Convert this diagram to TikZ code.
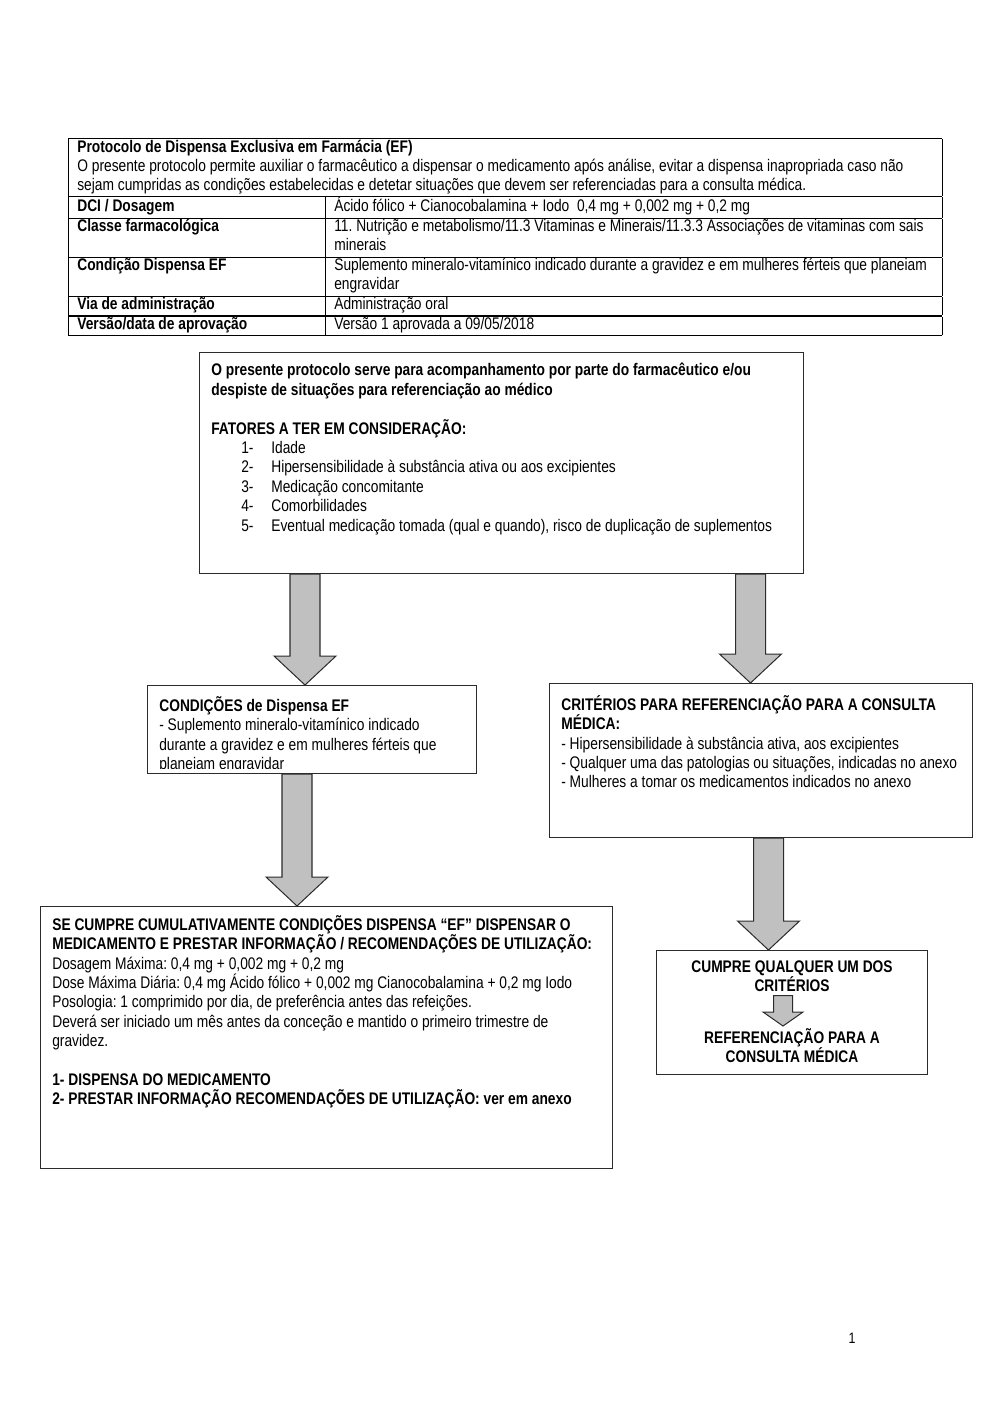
\documentclass[tikz,border=0pt]{standalone}
\usepackage{fontspec}
\setmainfont[FakeStretch=0.82]{Liberation Sans}
\usetikzlibrary{positioning,calc}
\newlength\pxu
\setlength\pxu{0.5953pt}
\setlength\tabcolsep{9\pxu}
\setlength\arrayrulewidth{0.6pt}
\frenchspacing
\newcommand{\docfont}{\fontsize{10}{11.55}\selectfont}
\newcommand{\tabfont}{\fontsize{10}{11.3}\selectfont}
\newcommand{\listitem}[2]{\hspace*{30\pxu}\makebox[30\pxu][l]{#1}#2}
\definecolor{rulegray}{HTML}{2B2B2B}
\definecolor{arrowgray}{HTML}{C0C0C0}
\tikzset{
  frame/.style 2 args={rectangle, draw=rulegray, line width=0.6pt, anchor=north west,
                       inner sep=0pt, minimum width=#1*\pxu, minimum height=#2*\pxu},
  txt/.style={anchor=north west, align=left, inner sep=0pt, font=\docfont,
              execute at begin node=\strut},
  ctxt/.style={anchor=north, align=center, inner sep=0pt, font=\docfont\bfseries,
               execute at begin node=\strut},
  blockarrow/.style n args={3}{draw=rulegray, fill=arrowgray, line width=0.6pt, to path={
      ($(\tikztostart)+(-#1,0)$) -- ($(\tikztostart)+(#1,0)$) -- ($(\tikztotarget)+(#1,-#3)$)
      -- ($(\tikztotarget)+(#2,-#3)$) -- (\tikztotarget) -- ($(\tikztotarget)+(-#2,-#3)$)
      -- ($(\tikztotarget)+(-#1,-#3)$) -- cycle}},
  bigarrow/.style={blockarrow={15}{31}{29}},
  smallarrow/.style={blockarrow={9.5}{20}{14}}
}
\begin{document}
\begin{tikzpicture}[x=\pxu, y=-\pxu]
\useasboundingbox (0,0) rectangle (1000,1414);

% protocol table
\node[anchor=north west, inner sep=0pt, font=\tabfont] (info) at (68,138) {%
\begin{tabular}{|p{\dimexpr258\pxu-2\tabcolsep-0.6pt\relax}|p{\dimexpr618\pxu-2\tabcolsep-0.6pt\relax}|}
\hline
\multicolumn{2}{|p{\dimexpr876\pxu-2\tabcolsep-1.2pt\relax}|}{\textbf{Protocolo de Dispensa Exclusiva em Farmácia (EF)}\newline
O presente protocolo permite auxiliar o farmacêutico a dispensar o medicamento após análise, evitar a dispensa inapropriada caso não\newline
sejam cumpridas as condições estabelecidas e detetar situações que devem ser referenciadas para a consulta médica.}\\
\hline
\textbf{DCI / Dosagem} & Ácido fólico + Cianocobalamina + Iodo\ \ 0,4 mg + 0,002 mg + 0,2 mg\\
\hline
\textbf{Classe farmacológica} & 11. Nutrição e metabolismo/11.3 Vitaminas e Minerais/11.3.3 Associações de vitaminas com sais\newline minerais\\
\hline
\textbf{Condição Dispensa EF} & Suplemento mineralo-vitamínico indicado durante a gravidez e em mulheres férteis que planeiam\newline engravidar\\
\hline
\textbf{Via de administração} & Administração oral\\
\hline
\textbf{Versão/data de aprovação} & Versão 1 aprovada a 09/05/2018\\
\hline
\end{tabular}};

% flow boxes
\node[frame={604}{221}] (intro) at (199,352) {};
\node[txt] (introtxt) at ([shift={(12,11)}]intro.north west) {%
  \textbf{O presente protocolo serve para acompanhamento por parte do farmacêutico e/ou}\\
  \textbf{despiste de situações para referenciação ao médico}\\[11.55pt]
  \textbf{FATORES A TER EM CONSIDERAÇÃO:}\\
  \listitem{1-}{Idade}\\
  \listitem{2-}{Hipersensibilidade à substância ativa ou aos excipientes}\\
  \listitem{3-}{Medicação concomitante}\\
  \listitem{4-}{Comorbilidades}\\
  \listitem{5-}{Eventual medicação tomada (qual e quando), risco de duplicação de suplementos}};

\node[frame={329}{88}] (cond) at (147,685) {};
\begin{scope}
  \clip (cond.north west) rectangle ($(cond.south east)+(0,-6)$);
  \node[txt] (condtxt) at ([shift={(12,11)}]cond.north west) {%
    \textbf{CONDIÇÕES de Dispensa EF}\\
    - Suplemento mineralo-vitamínico indicado\\
    durante a gravidez e em mulheres férteis que\\
    planeiam engravidar};
\end{scope}

\node[frame={423}{154}] (crit) at (549,683) {};
\node[txt] (crittxt) at ([shift={(12,12)}]crit.north west) {%
  \textbf{CRITÉRIOS PARA REFERENCIAÇÃO PARA A CONSULTA}\\
  \textbf{MÉDICA:}\\
  - Hipersensibilidade à substância ativa, aos excipientes\\
  - Qualquer uma das patologias ou situações, indicadas no anexo\\
  - Mulheres a tomar os medicamentos indicados no anexo};

\node[frame={572}{262}] (dispense) at (40,906) {};
\node[txt] (dispensetxt) at ([shift={(12,9)}]dispense.north west) {%
  \textbf{SE CUMPRE CUMULATIVAMENTE CONDIÇÕES DISPENSA “EF” DISPENSAR O}\\
  \textbf{MEDICAMENTO E PRESTAR INFORMAÇÃO / RECOMENDAÇÕES DE UTILIZAÇÃO:}\\
  Dosagem Máxima: 0,4 mg + 0,002 mg + 0,2 mg\\
  Dose Máxima Diária: 0,4 mg Ácido fólico + 0,002 mg Cianocobalamina + 0,2 mg Iodo\\
  Posologia: 1 comprimido por dia, de preferência antes das refeições.\\
  Deverá ser iniciado um mês antes da conceção e mantido o primeiro trimestre de\\
  gravidez.\\[11.55pt]
  \textbf{1- DISPENSA DO MEDICAMENTO}\\
  \textbf{2- PRESTAR INFORMAÇÃO RECOMENDAÇÕES DE UTILIZAÇÃO: ver em anexo}};

\node[frame={271}{124}] (refbox) at (656,950) {};
\node[ctxt] (cumpre) at ([shift={(0,10)}]refbox.north) {CUMPRE QUALQUER UM DOS\\CRITÉRIOS};
\node[ctxt] (refer) at ([shift={(0,78)}]refbox.north) {REFERENCIAÇÃO PARA A\\CONSULTA MÉDICA};

% block arrows
\coordinate (a1) at ($(intro.south west)+(106,0)$);
\coordinate (a2) at ($(intro.south west)+(551.5,0)$);
\coordinate (a3) at ($(cond.south west)+(150,0)$);
\coordinate (a4) at ($(crit.south west)+(219.5,0)$);
\coordinate (a5) at ($(cumpre.south)+(-9,-2)$);
\draw[bigarrow] (a1) to (a1 |- cond.north);
\draw[bigarrow] (a2) to (a2 |- crit.north);
\draw[bigarrow] (a3) to (a3 |- dispense.north);
\draw[bigarrow] (a4) to (a4 |- refbox.north);
\draw[smallarrow] (a5) to ($(a5 |- refer.north)+(0,-2)$);

\node[font=\fontsize{9}{10}\selectfont, inner sep=0pt] (page) at (852,1338) {1};
\end{tikzpicture}
\end{document}
